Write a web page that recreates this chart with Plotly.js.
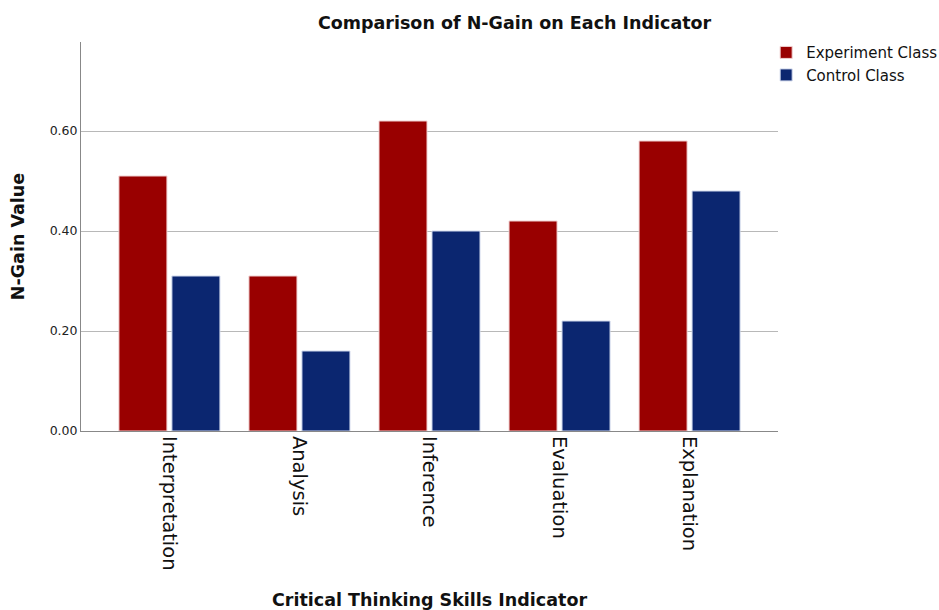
<!DOCTYPE html>
<html><head><meta charset="utf-8">
<script src="https://cdn.plot.ly/plotly-3.0.1.min.js"></script>
<style>body{margin:0;background:#fff}#c{width:939px;height:610px}</style>
</head><body><div id="c"></div>
<script>
const categories = ["Interpretation","Analysis","Inference","Evaluation","Explanation"];
const experiment = [0.51,0.31,0.62,0.42,0.58];
const control = [0.31,0.16,0.40,0.22,0.48];
const yTicks = [0,0.2,0.4,0.6];
const yTickLabels = ["0.00","0.20","0.40","0.60"];

const F = "DejaVu Sans, sans-serif";
const traces = [
  {type:"bar", name:"Experiment Class", x:categories, y:experiment,
   marker:{color:"#990000", line:{color:"#f0d0d0", width:1}}},
  {type:"bar", name:"Control Class", x:categories, y:control,
   marker:{color:"#0b2670", line:{color:"#d0d8ec", width:1}}}
];
const layout = {
  width:939, height:610,
  margin:{l:81, r:161, t:42, b:179, autoexpand:false},
  paper_bgcolor:"#fff", plot_bgcolor:"#fff",
  barmode:"group", bargap:0.185, bargroupgap:0.094,
  title:{text:"<b>Comparison of N-Gain on Each Indicator</b>", x:0.548, xref:"container", xanchor:"center", y:0.962, yref:"container", yanchor:"middle", font:{family:F, size:17.5, color:"#111"}},
  xaxis:{type:"category", range:[-0.68,4.68], tickangle:90, showgrid:false,
    showline:true, linecolor:"#888", linewidth:1, ticks:"",
    tickfont:{family:F, size:19.5, color:"#111"},
    title:{text:"<b>Critical Thinking Skills Indicator</b>", font:{family:F, size:17.5, color:"#111"}, standoff:26}},
  yaxis:{range:[0,0.778], tickvals:yTicks, ticktext:yTickLabels, showgrid:true, gridcolor:"#b8b8b8", gridwidth:1,
    showline:true, linecolor:"#888", linewidth:1, zeroline:false, ticks:"",
    tickfont:{family:F, size:12.5, color:"#222"},
    title:{text:"<b>N-Gain Value</b>", font:{family:F, size:17.5, color:"#111"}, standoff:20}},
  legend:{x:0.983, xref:"paper", xanchor:"left", y:1.015, yanchor:"top", font:{family:F, size:15, color:"#111"},
    tracegroupgap:0, bgcolor:"rgba(0,0,0,0)"},
  showlegend:true
};
Plotly.newPlot("c", traces, layout, {displayModeBar:false, staticPlot:true});
</script></body></html>
